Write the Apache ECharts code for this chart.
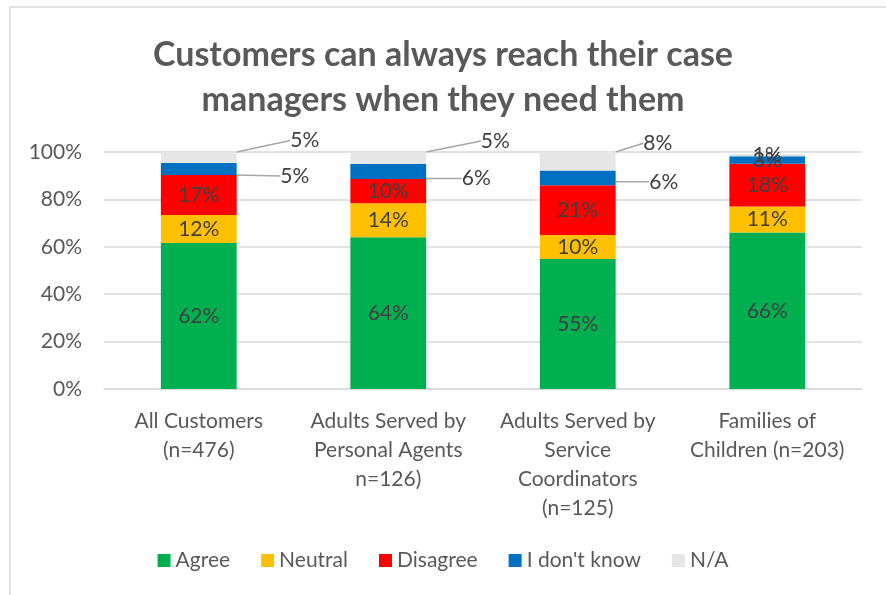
<!DOCTYPE html>
<html>
<head>
<meta charset="utf-8">
<script src="https://cdn.jsdelivr.net/npm/echarts@6/dist/echarts.min.js"></script>
<style>
html, body { margin: 0; padding: 0; background: #fff; }
#main { width: 886px; height: 595px; }
</style>
</head>
<body>
<div id="main"></div>
<script>
var categories = [
    'All Customers\n(n=476)',
    'Adults Served by\nPersonal Agents\nn=126)',
    'Adults Served by\nService\nCoordinators\n(n=125)',
    'Families of\nChildren (n=203)'
];
var agree = [61.6, 64.0, 54.9, 66.0];
var neutral = [11.8, 14.4, 10.1, 11.0];
var disagree = [16.9, 10.2, 21.0, 18.0];
var dontKnow = [5.1, 6.4, 6.2, 3.2];
var notApplicable = [4.6, 5.0, 7.8, 1.0];
var yTicks = [0, 20, 40, 60, 80, 100];

var font = 'Lato';
var textGrey = '#595959';
var labelGrey = '#404040';

// offsets for the labels drawn outside the bars (by data index)
var dkOffsets = [[96, 7], [88, 7], [86, 4], null];
var naOffsets = [[106, -17], [107, -17], [80, -18], null];

function makeSeries(name, data, color, offsets) {
    var s = {
        name: name,
        type: 'bar',
        stack: 'total',
        barWidth: '40%',
        data: data,
        itemStyle: { color: color },
        label: {
            show: true,
            position: 'inside',
            fontFamily: font,
            fontSize: 21,
            color: labelGrey,
            formatter: function (p) { return Math.round(p.value) + '%'; }
        }
    };
    if (offsets) {
        s.labelLine = { show: true, lineStyle: { color: '#a6a6a6', width: 1.5 } };
        s.labelLayout = function (p) {
            var o = offsets[p.dataIndex];
            if (!o) return {};
            return { dx: o[0], dy: o[1] };
        };
    }
    return s;
}

var chart = echarts.init(document.getElementById('main'));
chart.setOption({
    animation: false,
    backgroundColor: '#fff',
    graphic: [{
        type: 'rect',
        shape: { x: 10, y: 7, width: 900, height: 620 },
        style: { fill: 'none', stroke: '#d9d9d9', lineWidth: 1.5 },
        silent: true,
        z: -1
    }],
    title: {
        text: 'Customers can always reach their case\nmanagers when they need them',
        left: 'center',
        top: 28,
        textStyle: {
            fontFamily: font,
            fontSize: 34,
            fontWeight: 'bold',
            color: textGrey,
            lineHeight: 45
        }
    },
    legend: {
        bottom: 19,
        left: 'center',
        itemWidth: 13,
        itemHeight: 13,
        itemGap: 31,
        icon: 'rect',
        textStyle: { fontFamily: font, fontSize: 21, color: textGrey },
        data: ['Agree', 'Neutral', 'Disagree', "I don't know", 'N/A']
    },
    grid: { left: 104, right: 24, top: 152, bottom: 206 },
    xAxis: {
        type: 'category',
        data: categories,
        axisLine: { lineStyle: { color: '#d9d9d9', width: 1.5 } },
        axisTick: { show: false },
        axisLabel: {
            fontFamily: font,
            fontSize: 21,
            color: textGrey,
            lineHeight: 29,
            margin: 18,
            interval: 0
        }
    },
    yAxis: {
        type: 'value',
        min: yTicks[0],
        max: yTicks[yTicks.length - 1],
        interval: 20,
        axisLabel: {
            fontFamily: font,
            fontSize: 21,
            color: textGrey,
            margin: 22,
            formatter: '{value}%'
        },
        splitLine: { lineStyle: { color: '#d9d9d9', width: 1.5 } }
    },
    series: [
        makeSeries('Agree', agree, '#00b050'),
        makeSeries('Neutral', neutral, '#ffc000'),
        makeSeries('Disagree', disagree, '#ff0000'),
        makeSeries("I don't know", dontKnow, '#0070c0', dkOffsets),
        makeSeries('N/A', notApplicable, '#e7e6e6', naOffsets)
    ]
});
</script>
</body>
</html>
